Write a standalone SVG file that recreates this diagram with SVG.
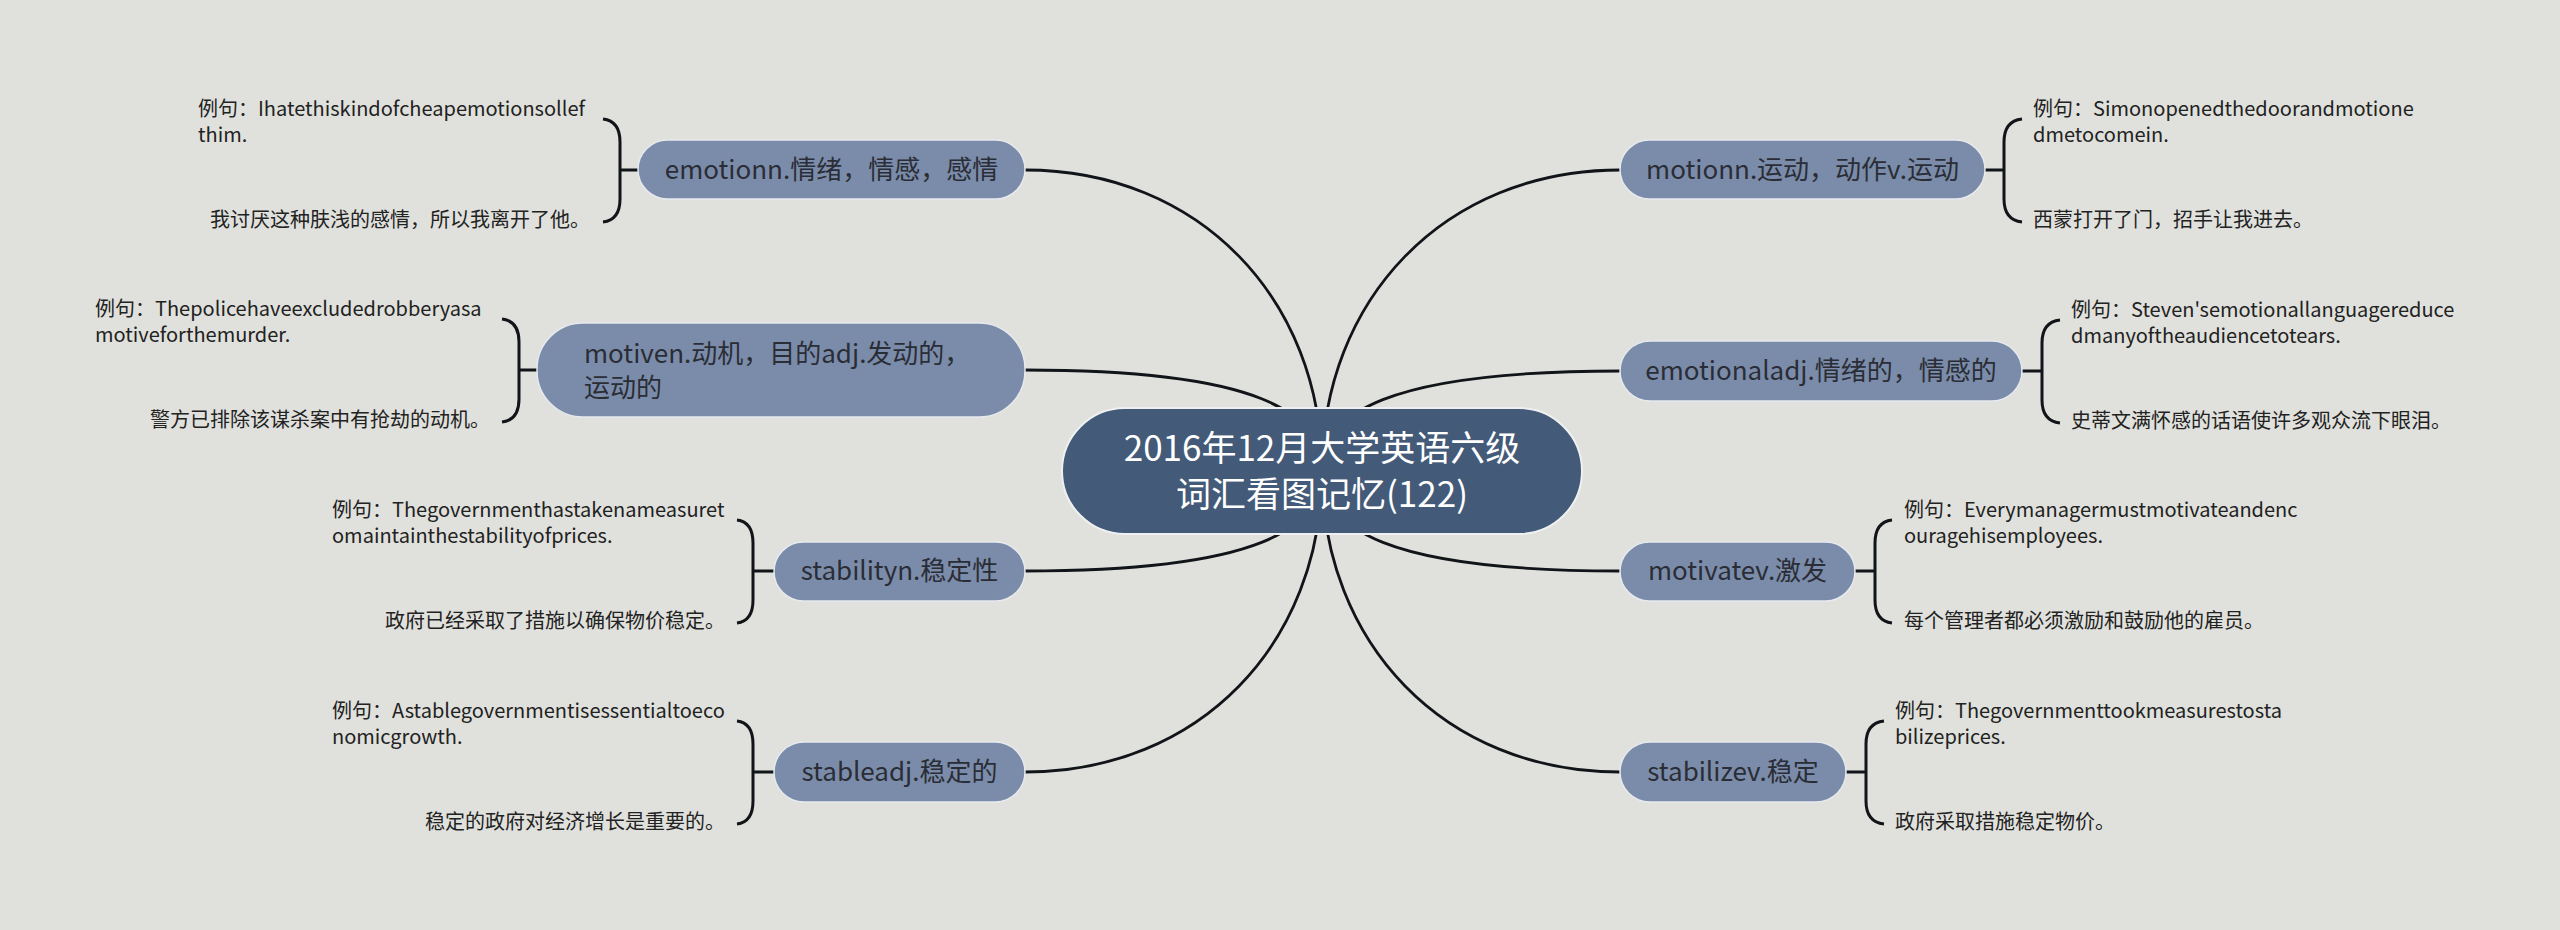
<svg xmlns="http://www.w3.org/2000/svg" width="2560" height="930" viewBox="0 0 2560 930">
<style>
text{font-family:"Noto Sans CJK SC","Noto Sans",sans-serif;}
.bg{fill:#e0e1dc;}
.sub{fill:#7a8ca9;stroke:#e6e9ee;stroke-width:1.5;}
.root{fill:#435a78;stroke:#eef0f2;stroke-width:2;}
.conn{fill:none;stroke:#111418;stroke-width:2.8;}
.br{fill:none;stroke:#111418;stroke-width:3;}
.st{fill:#2b2d36;font-size:26px;}
.rt{fill:#ffffff;font-size:35px;text-anchor:middle;}
.ex{fill:#222222;font-size:20px;}
.m{text-anchor:middle;}
.e{text-anchor:end;}
</style>
<rect class="bg" x="0" y="0" width="2560" height="930"/>
<g id="connectors">
<path class="conn" d="M1025,170 C1200,170 1322,300 1322,471"/>
<path class="conn" d="M1025,370 C1260,370 1322,413 1322,471"/>
<path class="conn" d="M1025,571 C1260,571 1322,528 1322,471"/>
<path class="conn" d="M1025,772 C1200,772 1322,643 1322,471"/>
<path class="conn" d="M1620,170 C1444,170 1322,300 1322,471"/>
<path class="conn" d="M1620,371 C1385,371 1322,414 1322,471"/>
<path class="conn" d="M1620,571 C1385,571 1322,528 1322,471"/>
<path class="conn" d="M1620,772 C1444,772 1322,643 1322,471"/>
<path class="br" d="M620,170 H638 M603,119 Q620,121 620,142 V199 Q620,220 603,222"/>
<path class="br" d="M519,370 H537 M502,319 Q519,321 519,342 V399 Q519,420 502,422"/>
<path class="br" d="M753,571 H774 M737,520 Q753,522 753,543 V600 Q753,621 737,623"/>
<path class="br" d="M753,772 H774 M737,721 Q753,723 753,744 V801 Q753,822 737,824"/>
<path class="br" d="M1985,170 H2004 M2022,119 Q2004,121 2004,142 V199 Q2004,220 2022,222"/>
<path class="br" d="M2022,371 H2042 M2060,320 Q2042,322 2042,343 V400 Q2042,421 2060,423"/>
<path class="br" d="M1855,571 H1875 M1892,520 Q1875,522 1875,543 V600 Q1875,621 1892,623"/>
<path class="br" d="M1846,772 H1866 M1884,721 Q1866,723 1866,744 V801 Q1866,822 1884,824"/>
</g>
<g id="root">
<rect class="root" x="1062" y="408" width="520" height="126" rx="63"/>
<text class="rt" x="1322" y="461">2016年12月大学英语六级</text>
<text class="rt" x="1322" y="507">词汇看图记忆(122)</text>
</g>
<g id="n-emotion">
<rect class="sub" x="638" y="140" width="387" height="59" rx="29.5"/>
<text class="st m" x="831.5" y="179">emotionn.情绪，情感，感情</text>
</g>
<g id="n-emotion-ex">
<text class="ex" x="198" y="116">例句：Ihatethiskindofcheapemotionsollef</text>
<text class="ex" x="198" y="142">thim.</text>
<text class="ex e" x="590" y="227">我讨厌这种肤浅的感情，所以我离开了他。</text>
</g>
<g id="n-motive">
<rect class="sub" x="537" y="323" width="488" height="94" rx="46"/>
<text class="st" x="584" y="363">motiven.动机，目的adj.发动的，</text>
<text class="st" x="584" y="397">运动的</text>
</g>
<g id="n-motive-ex">
<text class="ex" x="95" y="316">例句：Thepolicehaveexcludedrobberyasa</text>
<text class="ex" x="95" y="342">motiveforthemurder.</text>
<text class="ex e" x="490" y="427">警方已排除该谋杀案中有抢劫的动机。</text>
</g>
<g id="n-stability">
<rect class="sub" x="774" y="542" width="251" height="59" rx="29.5"/>
<text class="st m" x="899.5" y="580">stabilityn.稳定性</text>
</g>
<g id="n-stability-ex">
<text class="ex" x="332" y="517">例句：Thegovernmenthastakenameasuret</text>
<text class="ex" x="332" y="543">omaintainthestabilityofprices.</text>
<text class="ex e" x="725" y="628">政府已经采取了措施以确保物价稳定。</text>
</g>
<g id="n-stable">
<rect class="sub" x="774" y="742" width="251" height="60" rx="30"/>
<text class="st m" x="899.5" y="781">stableadj.稳定的</text>
</g>
<g id="n-stable-ex">
<text class="ex" x="332" y="718">例句：Astablegovernmentisessentialtoeco</text>
<text class="ex" x="332" y="744">nomicgrowth.</text>
<text class="ex e" x="725" y="829">稳定的政府对经济增长是重要的。</text>
</g>
<g id="n-motion">
<rect class="sub" x="1620" y="140" width="365" height="59" rx="29.5"/>
<text class="st m" x="1802.5" y="179">motionn.运动，动作v.运动</text>
</g>
<g id="n-motion-ex">
<text class="ex" x="2033" y="116">例句：Simonopenedthedoorandmotione</text>
<text class="ex" x="2033" y="142">dmetocomein.</text>
<text class="ex" x="2033" y="227">西蒙打开了门，招手让我进去。</text>
</g>
<g id="n-emotional">
<rect class="sub" x="1620" y="341" width="402" height="60" rx="30"/>
<text class="st m" x="1821" y="380">emotionaladj.情绪的，情感的</text>
</g>
<g id="n-emotional-ex">
<text class="ex" x="2071" y="317">例句：Steven'semotionallanguagereduce</text>
<text class="ex" x="2071" y="343">dmanyoftheaudiencetotears.</text>
<text class="ex" x="2071" y="428">史蒂文满怀感的话语使许多观众流下眼泪。</text>
</g>
<g id="n-motivate">
<rect class="sub" x="1620" y="542" width="235" height="59" rx="29.5"/>
<text class="st m" x="1737.5" y="580">motivatev.激发</text>
</g>
<g id="n-motivate-ex">
<text class="ex" x="1904" y="517">例句：Everymanagermustmotivateandenc</text>
<text class="ex" x="1904" y="543">ouragehisemployees.</text>
<text class="ex" x="1904" y="628">每个管理者都必须激励和鼓励他的雇员。</text>
</g>
<g id="n-stabilize">
<rect class="sub" x="1620" y="742" width="226" height="60" rx="30"/>
<text class="st m" x="1733" y="781">stabilizev.稳定</text>
</g>
<g id="n-stabilize-ex">
<text class="ex" x="1895" y="718">例句：Thegovernmenttookmeasurestosta</text>
<text class="ex" x="1895" y="744">bilizeprices.</text>
<text class="ex" x="1895" y="829">政府采取措施稳定物价。</text>
</g>
</svg>
